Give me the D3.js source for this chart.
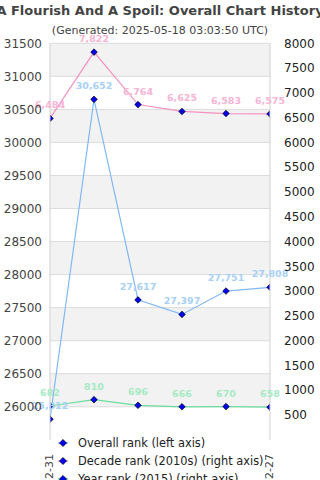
<!DOCTYPE html>
<html><head><meta charset="utf-8">
<script src="https://cdn.jsdelivr.net/npm/d3@7"></script>
<style>body{margin:0;background:#fff}svg{display:block;font-family:"DejaVu Sans",sans-serif}</style>
</head><body><svg id="c" width="320" height="480"></svg>
<script>
const dates = ["2015-12-31","2016-12-29","2017-12-28","2018-12-27","2019-12-26","2020-12-27"];
const overallRank = [25812,30652,27617,27397,27751,27808];
const decadeRank = [6484,7822,6764,6625,6583,6575];
const yearRank = [682,810,696,666,670,658];
const leftTicks = d3.range(26000,31501,500);
const rightTicks = d3.range(500,8001,500);
const legendLabels = ["Overall rank (left axis)","Decade rank (2010s) (right axis)","Year rank (2015) (right axis)"];

const svg = d3.select("#c");
const L=50,R=270,T=43.3,B=439.8;
const x = d3.scalePoint().domain(dates).range([L,R]);
const yL = d3.scaleLinear().domain([25500,31500]).range([B,T]);
const yR = d3.scaleLinear().domain([0,8000]).range([B,T]);

const bandStarts = d3.range(31500,25999,-1000);
svg.append("g").selectAll("rect").data(bandStarts).join("rect")
  .attr("x",L).attr("width",R-L)
  .attr("y",d=>yL(d)).attr("height",d=>yL(d-500)-yL(d)).attr("fill","#f2f2f2");
svg.append("g").selectAll("line").data(leftTicks).join("line")
  .attr("x1",L).attr("x2",R).attr("y1",d=>yL(d)).attr("y2",d=>yL(d))
  .attr("stroke","#dcdcdc").attr("stroke-width",1);

const series = [
  {vals:overallRank, y:yL, line:"#80b8f5", lab:"#a8d0f8"},
  {vals:decadeRank, y:yR, line:"#f592c2", lab:"#f8b4d4"},
  {vals:yearRank, y:yR, line:"#6adc9e", lab:"#a6eac4"}
];
svg.append("clipPath").attr("id","pc").append("rect").attr("x",L).attr("y",T-10).attr("width",R-L).attr("height",B-T+10);
const g = svg.append("g").attr("clip-path","url(#pc)");
series.forEach(s=>{
  const line = d3.line().x((d,i)=>x(dates[i])).y(d=>s.y(d));
  g.append("path").datum(s.vals).attr("d",line).attr("fill","none").attr("stroke",s.line).attr("stroke-width",1.2);
});
const diamond = d3.symbol().type(d3.symbolSquare).size(22);
series.forEach(s=>{
  g.append("g").selectAll("path").data(s.vals).join("path")
    .attr("d",diamond).attr("transform",(d,i)=>`translate(${x(dates[i])},${s.y(d)}) rotate(45)`)
    .attr("fill","#0000ee").attr("stroke","#000").attr("stroke-width",0.6);
});
[L,R].forEach(v=>svg.append("line").attr("x1",v).attr("x2",v).attr("y1",T).attr("y2",B).attr("stroke","#d0d0d0"));
series.forEach(s=>{
  svg.append("g").selectAll("text").data(s.vals).join("text")
    .attr("x",(d,i)=>x(dates[i])).attr("y",d=>s.y(d)-10)
    .attr("text-anchor","middle").attr("font-size","9.5px").attr("font-weight","bold")
    .attr("fill",s.lab).text(d=>d3.format(",")(d));
});
svg.append("g").selectAll("text").data(leftTicks).join("text")
  .attr("x",42).attr("y",d=>yL(d)).attr("dy","0.35em").attr("text-anchor","end")
  .attr("font-size","12px").attr("fill","#444").text(d=>d);
svg.append("g").selectAll("text").data(rightTicks).join("text")
  .attr("x",284).attr("y",d=>yR(d)).attr("dy","0.35em").attr("text-anchor","start")
  .attr("font-size","12px").attr("fill","#222").text(d=>d);
svg.append("g").selectAll("text").data(dates).join("text")
  .attr("transform",d=>`translate(${x(d)-1},454) rotate(-90)`).attr("dy","0.35em")
  .attr("text-anchor","end").attr("font-size","11px").attr("fill","#444").text(d=>d);
svg.append("text").attr("x",160).attr("y",15).attr("text-anchor","middle").attr("font-size","13px")
  .attr("font-weight","bold").attr("fill","#444").text("A Flourish And A Spoil: Overall Chart History");
svg.append("text").attr("x",160).attr("y",34).attr("text-anchor","middle").attr("font-size","11px")
  .attr("fill","#444").text("(Generated: 2025-05-18 03:03:50 UTC)");
const lg = svg.append("g");
lg.append("rect").attr("x",55).attr("y",441).attr("width",210).attr("height",40).attr("fill","#fff");
legendLabels.forEach((t,i)=>{
  const yy = 443 + i*18;
  lg.append("line").attr("x1",58).attr("x2",68).attr("y1",yy).attr("y2",yy).attr("stroke",series[i].line).attr("stroke-width",1.5);
  lg.append("path").attr("d",d3.symbol().type(d3.symbolSquare).size(26)).attr("transform",`translate(63,${yy}) rotate(45)`)
    .attr("fill","#0000ee").attr("stroke","#000").attr("stroke-width",0.6);
  lg.append("text").attr("x",78).attr("y",yy).attr("dy","0.35em").attr("font-size","11.4px").attr("fill","#222").text(t);
});
</script></body></html>
